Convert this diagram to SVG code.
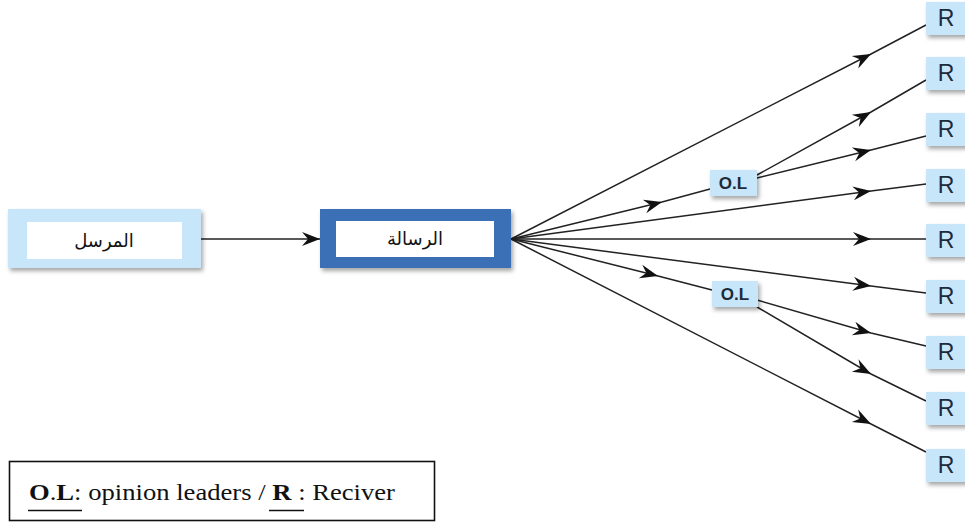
<svg xmlns="http://www.w3.org/2000/svg" width="965" height="524" viewBox="0 0 965 524">
  <defs>
    <filter id="shadow" x="-20%" y="-30%" width="140%" height="170%">
      <feDropShadow dx="2" dy="3" stdDeviation="2.2" flood-color="#000" flood-opacity="0.35"/>
    </filter>
    <marker id="arrow" viewBox="-19 -8 21 16" markerWidth="21" markerHeight="16" refX="0" refY="0" orient="auto" markerUnits="userSpaceOnUse">
      <path d="M0,0 L-18,-7 L-12,0 L-18,7 Z" fill="#111"/>
    </marker>
    <style>
      .wire { fill: none; stroke: #222; stroke-width: 1.5; marker-mid: url(#arrow); }
      .wire-end { fill: none; stroke: #222; stroke-width: 1.5; marker-end: url(#arrow); }
      .lightbox { fill: #c8e6f9; filter: url(#shadow); }
      .rlabel { font-family: "Liberation Sans", Arial, sans-serif; font-size: 23px; fill: #1c2a3a; text-anchor: middle; }
      .ollabel { font-family: "Liberation Sans", Arial, sans-serif; font-size: 17px; font-weight: bold; fill: #1c2a3a; text-anchor: middle; }
      .arabic { font-family: "DejaVu Sans", "Noto Sans", sans-serif; font-size: 18px; fill: #111; text-anchor: middle; }
      .legend { font-family: "Liberation Serif", "Times New Roman", serif; font-size: 23px; fill: #111; }
    </style>
  </defs>

  <rect x="0" y="0" width="965" height="524" fill="#ffffff"/>

  <!-- connectors -->
  <g id="connectors">
    <path class="wire-end" d="M201,239 L320,239"/>
    <!-- fan from the message -->
    <path class="wire" d="M511,239 L871,54 L926,25"/>
    <path class="wire" d="M511,239 L662,202 L710,189"/>
    <path class="wire" d="M511,239 L871,191 L926,184"/>
    <path class="wire" d="M511,239 L871,239 L926,239"/>
    <path class="wire" d="M511,239 L871,286 L926,293"/>
    <path class="wire" d="M511,239 L658,276 L712,290"/>
    <path class="wire" d="M511,239 L871,424 L926,452"/>
    <!-- from first opinion leader -->
    <path class="wire" d="M757,175 L871,112 L926,80"/>
    <path class="wire" d="M757,178 L871,150 L926,136"/>
    <!-- from second opinion leader -->
    <path class="wire" d="M757,300 L871,333 L926,346"/>
    <path class="wire" d="M757,307 L871,374 L926,401"/>
  </g>

  <!-- sender -->
  <g id="sender">
    <rect class="lightbox" x="8" y="209" width="193" height="59"/>
    <rect x="27" y="222" width="155" height="37" fill="#ffffff"/>
    <text class="arabic" x="104" y="247" direction="rtl">المرسل</text>
  </g>

  <!-- message -->
  <g id="message">
    <rect x="320" y="209" width="191" height="59" fill="#3b6fb7" filter="url(#shadow)"/>
    <rect x="336" y="221" width="158" height="36" fill="#ffffff"/>
    <text class="arabic" x="415" y="245" direction="rtl">الرسالة</text>
  </g>

  <!-- opinion leaders -->
  <g id="ol1">
    <rect class="lightbox" x="710" y="170" width="47" height="26"/>
    <text class="ollabel" x="733" y="189">O.L</text>
  </g>
  <g id="ol2">
    <rect class="lightbox" x="712" y="281" width="46" height="26"/>
    <text class="ollabel" x="735" y="300">O.L</text>
  </g>

  <!-- receivers -->
  <g id="r1"><rect class="lightbox" x="926" y="2" width="42" height="33"/><text class="rlabel" x="946" y="26">R</text></g>
  <g id="r2"><rect class="lightbox" x="926" y="57" width="42" height="33"/><text class="rlabel" x="946" y="81">R</text></g>
  <g id="r3"><rect class="lightbox" x="926" y="113" width="42" height="33"/><text class="rlabel" x="946" y="137">R</text></g>
  <g id="r4"><rect class="lightbox" x="926" y="169" width="42" height="33"/><text class="rlabel" x="946" y="193">R</text></g>
  <g id="r5"><rect class="lightbox" x="926" y="224" width="42" height="33"/><text class="rlabel" x="946" y="248">R</text></g>
  <g id="r6"><rect class="lightbox" x="926" y="280" width="42" height="33"/><text class="rlabel" x="946" y="304">R</text></g>
  <g id="r7"><rect class="lightbox" x="926" y="336" width="42" height="33"/><text class="rlabel" x="946" y="360">R</text></g>
  <g id="r8"><rect class="lightbox" x="926" y="392" width="42" height="33"/><text class="rlabel" x="946" y="416">R</text></g>
  <g id="r9"><rect class="lightbox" x="926" y="449" width="42" height="33"/><text class="rlabel" x="946" y="473">R</text></g>

  <!-- legend -->
  <g id="legend">
    <rect x="9.5" y="461.5" width="425" height="59" fill="#ffffff" stroke="#111" stroke-width="1.6"/>
    <text class="legend" x="29" y="500" textLength="366" lengthAdjust="spacingAndGlyphs"><tspan font-weight="bold">O</tspan>.<tspan font-weight="bold">L</tspan>: opinion leaders / <tspan font-weight="bold">R</tspan> : Reciver</text>
    <line x1="28" y1="510.5" x2="82" y2="510.5" stroke="#111" stroke-width="1.6"/>
    <line x1="269" y1="510.5" x2="304" y2="510.5" stroke="#111" stroke-width="1.6"/>
  </g>
</svg>
